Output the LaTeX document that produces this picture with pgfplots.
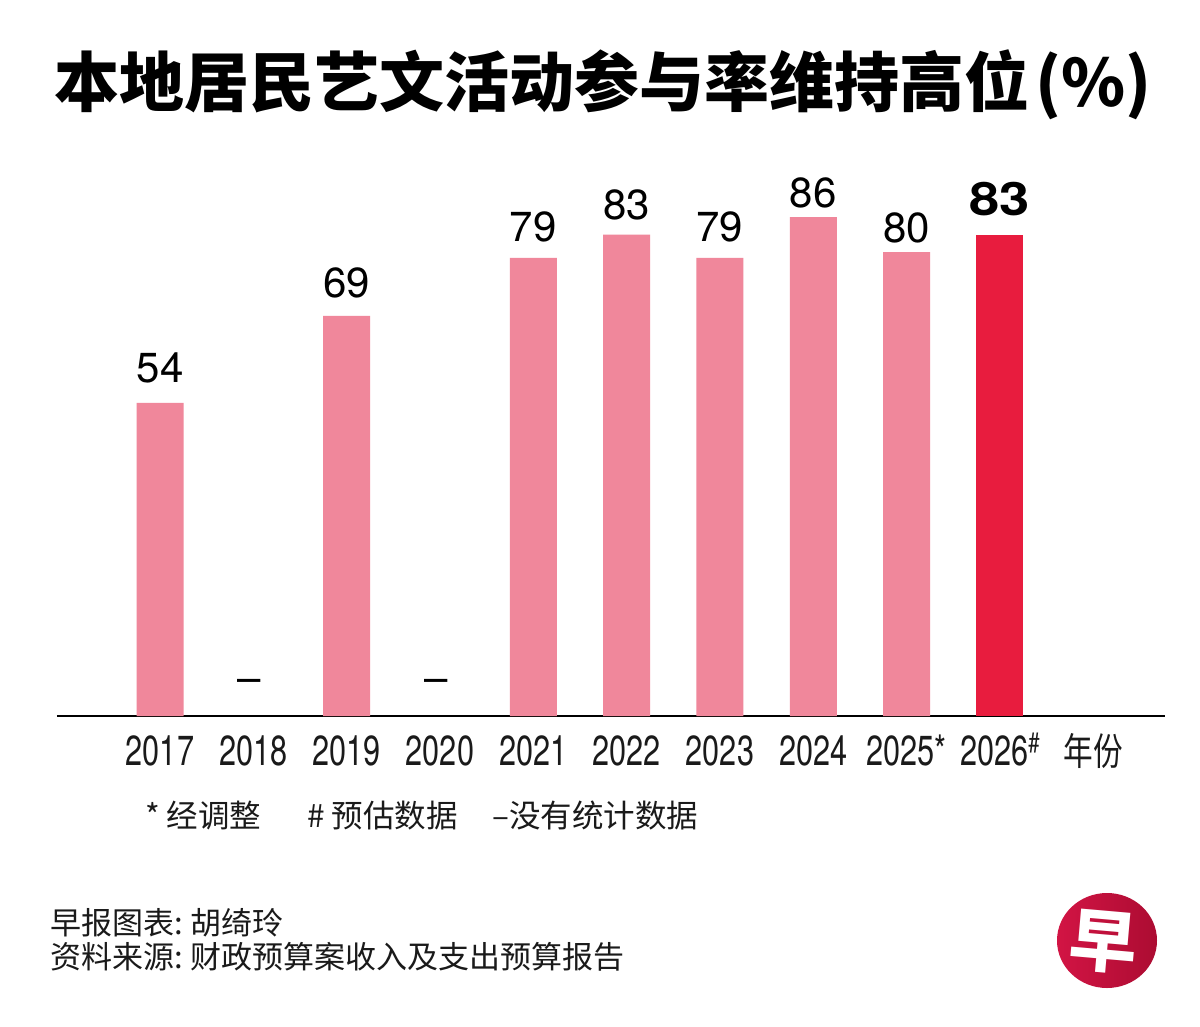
\documentclass[border=0pt]{standalone}
\usepackage{fontspec}
\usepackage{pgfplots}
\usepackage{pgfplotstable}
\pgfplotsset{compat=1.18}
\setmainfont{TeX Gyre Heros}
\newfontfamily\cjk{Noto Sans CJK SC}
\newfontfamily\cjkcond{Noto Sans CJK SC}[FakeStretch=0.78]
\newfontfamily\condfont{TeX Gyre Heros}[FakeStretch=0.73]
\newfontfamily\helv{TeX Gyre Heros}
\newfontfamily\helvwide{TeX Gyre Heros}[FakeStretch=1.18]
\definecolor{barpink}{RGB}{240,135,155}
\definecolor{barred}{RGB}{232,28,62}
\definecolor{txt}{RGB}{26,26,26}
\definecolor{logored}{RGB}{210,20,68}
\definecolor{logodark}{RGB}{172,12,50}
\pgfplotstableread{
x y off
0 54 20
2 69 18
4 79 16
5 83 15
6 79 16
7 86 10
8 80 10
}\pinkdata
\begin{document}
\begin{tikzpicture}
\fill[white] (0,0) rectangle (1200pt,-1026pt);
\path[use as bounding box] (0,0) rectangle (1200pt,-1026pt);
\node[anchor=base west, inner sep=0pt, text=black, font=\cjk\bfseries\fontsize{65}{65}\selectfont] at (54pt,-106pt) {本地居民艺文活动参与率维持高位\hspace{6pt}(\%)};
\begin{axis}[
  at={(57pt,-716pt)}, anchor=south west,
  width=1108pt, height=580pt, scale only axis,
  xmin=-1.1036, xmax=10.768, ymin=0, ymax=100,
  axis x line=bottom, axis y line=none,
  axis line style={line width=2.5pt,-,black},
  xtick={0,...,10},
  xticklabels={2017,2018,2019,2020,2021,2022,2023,2024,2025*,{2026\raisebox{13pt}{\fontsize{28}{28}\selectfont\#}},{\cjkcond\fontsize{38}{38}\selectfont 年份}},
  xticklabel style={font=\condfont\fontsize{42}{42}\selectfont, anchor=base, inner sep=0pt, yshift=-49pt, text=txt},
  major tick length=0pt,
  ytick=\empty,
  clip=false,
  /pgf/number format/assume math mode=true,
]
\addplot[ybar, bar width=47pt, bar shift=0pt, fill=barpink, draw=none,
  visualization depends on={\thisrow{off} \as \labeloff},
  nodes near coords,
  nodes near coords style={font=\helv\fontsize{42}{42}\selectfont, anchor=base, inner sep=0pt, yshift={\labeloff pt}, text=black}]
  table[x=x, y=y] {\pinkdata};
\addplot[ybar, bar width=47pt, bar shift=0pt, fill=barred, draw=none,
  nodes near coords,
  nodes near coords style={font=\helvwide\bfseries\fontsize{46}{46}\selectfont, anchor=base, inner sep=0pt, yshift=19pt, text=black}]
  coordinates {(9,83)};
\addplot[ybar, bar width=47pt, bar shift=0pt, draw=none, fill=none,
  nodes near coords={–},
  nodes near coords style={font=\helv\fontsize{42}{42}\selectfont, anchor=base, inner sep=0pt, yshift=24pt, xshift=-4pt, text=black}]
  coordinates {(1,0) (3,0)};
\end{axis}
\node[anchor=base west, inner sep=0pt, font=\cjk\fontsize{31.5}{31.5}\selectfont, text=txt] at (145pt,-827pt) {* 经调整};
\node[anchor=base west, inner sep=0pt, font=\cjk\fontsize{31.5}{31.5}\selectfont, text=txt] at (307pt,-827pt) {\# 预估数据};
\node[anchor=base west, inner sep=0pt, font=\cjk\fontsize{31.5}{31.5}\selectfont, text=txt] at (492pt,-827pt) {–没有统计数据};
\node[anchor=base west, inner sep=0pt, font=\cjk\fontsize{31}{31}\selectfont, text=txt] at (50pt,-934pt) {早报图表:\hspace{-2pt} 胡绮玲};
\node[anchor=base west, inner sep=0pt, font=\cjk\fontsize{31}{31}\selectfont, text=txt] at (50pt,-968pt) {资料来源:\hspace{-2pt} 财政预算案收入及支出预算报告};
\shade[left color=logored, right color=logodark] (1107pt,-940.5pt) ellipse [x radius=50pt, y radius=47.5pt];
\node[text=white, inner sep=0pt, font=\cjk\bfseries\fontsize{68}{68}\selectfont, rotate=-5] at (1104pt,-942pt) {早};
\end{tikzpicture}
\end{document}
